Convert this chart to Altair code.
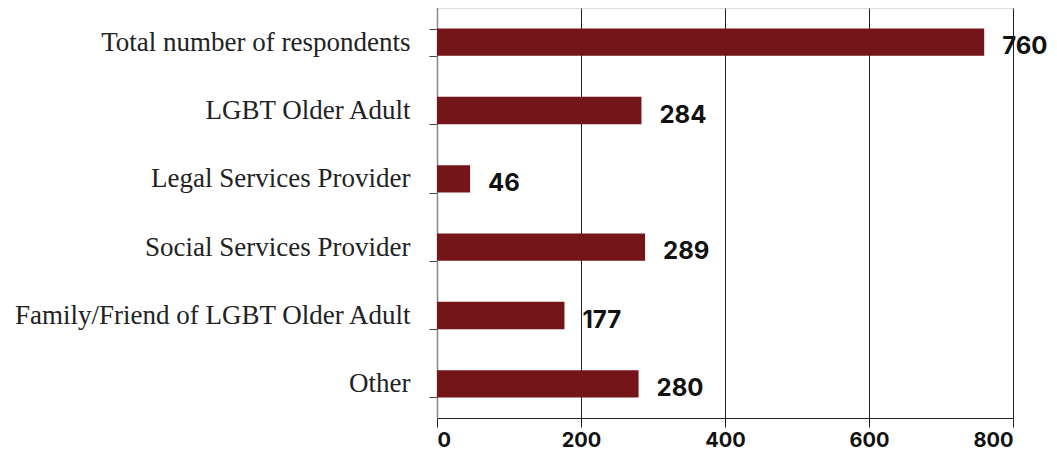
import altair as alt
import pandas as pd

categories = [
    "Total number of respondents",
    "LGBT Older Adult",
    "Legal Services Provider",
    "Social Services Provider",
    "Family/Friend of LGBT Older Adult",
    "Other",
]
values = [760, 284, 46, 289, 177, 280]
x_ticks = [0, 200, 400, 600, 800]

df = pd.DataFrame({"category": categories, "value": values})

bar_color = "#741619"

y_enc = alt.Y(
    "category:N",
    sort=categories,
    title=None,
    scale=alt.Scale(paddingInner=0.6, paddingOuter=0.3),
    axis=alt.Axis(
        tickBand="extent",
        tickSize=8,
        tickColor="#444",
        domainColor="#888",
        domainWidth=1.5,
        labelFont="Liberation Serif",
        labelFontSize=27,
        labelColor="#222",
        labelPadding=19,
        labelLimit=500,
    ),
)

x_enc = alt.X(
    "value:Q",
    title=None,
    scale=alt.Scale(domain=[0, 800], nice=False),
    axis=alt.Axis(
        values=x_ticks,
        grid=True,
        gridColor="#222",
        gridWidth=1,
        tickSize=9,
        tickColor="#222",
        domainColor="#222",
        labelFont="Inter",
        labelFontWeight="bold",
        labelFontSize=20,
        labelColor="#111",
        labelPadding=3,
    ),
)

bars = alt.Chart(df).mark_bar(color=bar_color).encode(x=x_enc, y=y_enc)

labels = alt.Chart(df).mark_text(
    align="left",
    baseline="middle",
    dx=18,
    dy=5,
    font="Inter",
    fontWeight="bold",
    fontSize=24,
    color="#111",
).encode(x="value:Q", y=alt.Y("category:N", sort=categories), text="value:Q")

chart = (
    alt.layer(bars, labels)
    .properties(
        width=576,
        height=410,
        autosize=alt.AutoSizeParams(type="none"),
        padding={"left": 429, "top": 0, "right": 36, "bottom": 37},
    )
    .configure_view(stroke="#222", strokeWidth=1)
    .configure(background="white")
)

chart.save("out.html", embed_options={"renderer": "svg", "actions": False})
